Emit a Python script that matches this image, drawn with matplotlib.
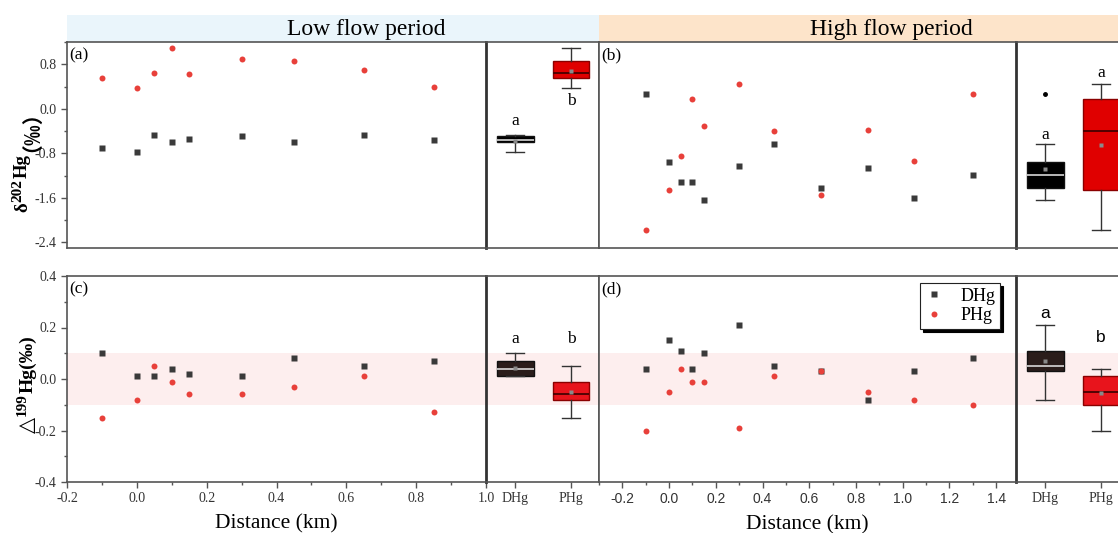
import numpy as np
import matplotlib
matplotlib.use('Agg')
import matplotlib.pyplot as plt
from matplotlib.patches import Rectangle
from matplotlib.lines import Line2D
from matplotlib.ticker import MultipleLocator

plt.rcParams['font.family'] = ['Liberation Serif', 'DejaVu Sans']
plt.rcParams['axes.unicode_minus'] = False

# ---------------- data ----------------
dist_low = [-0.1, 0.0, 0.05, 0.1, 0.15, 0.3, 0.45, 0.65, 0.85]
d202_low_DHg = [-0.70, -0.78, -0.47, -0.59, -0.54, -0.48, -0.60, -0.47, -0.56]
d202_low_PHg = [0.56, 0.38, 0.65, 1.10, 0.63, 0.89, 0.86, 0.70, 0.39]
D199_low_DHg = [0.10, 0.01, 0.01, 0.04, 0.02, 0.01, 0.08, 0.05, 0.07]
D199_low_PHg = [-0.15, -0.08, 0.05, -0.01, -0.06, -0.06, -0.03, 0.01, -0.13]

dist_high = [-0.1, 0.0, 0.05, 0.1, 0.15, 0.3, 0.45, 0.65, 0.85, 1.05, 1.3]
d202_high_DHg = [0.26, -0.96, -1.32, -1.32, -1.63, -1.03, -0.63, -1.42, -1.07, -1.60, -1.19]
d202_high_PHg = [-2.17, -1.45, -0.84, 0.17, -0.30, 0.45, -0.40, -1.55, -0.38, -0.93, 0.26]
D199_high_DHg = [0.04, 0.15, 0.11, 0.04, 0.10, 0.21, 0.05, 0.03, -0.08, 0.03, 0.08]
D199_high_PHg = [-0.20, -0.05, 0.04, -0.01, -0.01, -0.19, 0.01, 0.03, -0.05, -0.08, -0.10]

groups = ['DHg', 'PHg']
periods = ['Low flow period', 'High flow period']
panel_tags = ['(a)', '(b)', '(c)', '(d)']
letters_a = ['a', 'b']
letters_b = ['a', 'a']
letters_c = ['a', 'b']
letters_d = ['a', 'b']

# ---------------- layout ----------------
W, H = 1118, 533
fig = plt.figure(figsize=(W / 100, H / 100), dpi=100)


def rect(x0, y0, x1, y1):
    return [x0 / W, 1 - y1 / H, (x1 - x0) / W, (y1 - y0) / H]


LX0, LX1, LX2 = 67, 486, 599
RX1, RX2 = 1016, 1129
TY0, TY1 = 42, 248
BY0, BY1 = 276, 482

SP = '#555555'
DIV = '#333333'
BLK = '#3a3a3a'
RED = '#e8403a'
PINK = '#fdeeee'

# header bands
fig.add_artist(Rectangle((LX0 / W, 1 - 41.5 / H), (LX2 - LX0) / W, 26.5 / H,
                         transform=fig.transFigure, facecolor='#eaf5fb', edgecolor='none', zorder=0))
fig.add_artist(Rectangle((LX2 / W, 1 - 41.5 / H), (W - LX2) / W, 26.5 / H,
                         transform=fig.transFigure, facecolor='#fde4ca', edgecolor='none', zorder=0))
fig.text(366 / W, 1 - 29 / H, periods[0], ha='center', va='center', fontsize=17)
fig.text(891 / W, 1 - 29 / H, periods[1], ha='center', va='center', fontsize=17)

ax_a = fig.add_axes(rect(LX0, TY0, LX1, TY1))
bx_a = fig.add_axes(rect(LX1, TY0, LX2, TY1))
ax_b = fig.add_axes(rect(LX2, TY0, RX1, TY1))
bx_b = fig.add_axes(rect(RX1, TY0, RX2, TY1))
ax_c = fig.add_axes(rect(LX0, BY0, LX1, BY1))
bx_c = fig.add_axes(rect(LX1, BY0, LX2, BY1))
ax_d = fig.add_axes(rect(LX2, BY0, RX1, BY1))
bx_d = fig.add_axes(rect(RX1, BY0, RX2, BY1))

for ax in [ax_a, bx_a, ax_b, bx_b, ax_c, bx_c, ax_d, bx_d]:
    for s in ax.spines.values():
        s.set_color(SP)
        s.set_linewidth(1.2)
    ax.tick_params(which='both', direction='out', color=SP, width=1)
    ax.tick_params(which='major', length=4)
    ax.tick_params(which='minor', length=2)

for bx in [bx_a, bx_b, bx_c, bx_d]:
    bx.spines['left'].set_color(DIV)
    bx.spines['left'].set_linewidth(2)
    bx.set_xlim(0.48, 2.5)
    bx.set_yticks([])

# y limits
for ax in [ax_a, bx_a, ax_b, bx_b]:
    ax.set_ylim(-2.5, 1.2)
for ax in [ax_c, bx_c, ax_d, bx_d]:
    ax.set_ylim(-0.4, 0.4)
    ax.axhspan(-0.1, 0.1, color=PINK, zorder=0, lw=0)

ax_a.set_xlim(-0.2, 1.0)
ax_c.set_xlim(-0.2, 1.0)
ax_b.set_xlim(-0.3, 1.485)
ax_d.set_xlim(-0.3, 1.485)

# left y axes
ax_a.yaxis.set_major_locator(MultipleLocator(0.8))
ax_a.yaxis.set_minor_locator(MultipleLocator(0.4))
ax_c.yaxis.set_major_locator(MultipleLocator(0.2))
ax_c.yaxis.set_minor_locator(MultipleLocator(0.1))
for ax in [ax_a, ax_c]:
    ax.tick_params(axis='y', labelsize=10, labelcolor='#333333')
for ax in [ax_b, ax_d]:
    ax.set_yticks([])

# x axes
for ax in [ax_a, ax_b]:
    ax.set_xticks([])
for bx in [bx_a, bx_b]:
    bx.set_xticks([])
for ax in [ax_c, ax_d]:
    ax.xaxis.set_major_locator(MultipleLocator(0.2))
    ax.xaxis.set_minor_locator(MultipleLocator(0.1))
ax_c.tick_params(axis='x', labelsize=10, labelcolor='#333333')
ax_d.tick_params(axis='x', labelsize=10, labelcolor='#333333')
for lab in ax_d.get_xticklabels():
    lab.set_fontfamily('Liberation Sans')
for bx in [bx_c, bx_d]:
    bx.set_xticks([1, 2])
    bx.set_xticklabels(groups, fontsize=10, color='#333333')

for ax in [ax_a, ax_b, ax_c, ax_d]:
    ax.spines['right'].set_visible(False)

# scatter points
for ax, x, yd, yp in [(ax_a, dist_low, d202_low_DHg, d202_low_PHg),
                      (ax_b, dist_high, d202_high_DHg, d202_high_PHg),
                      (ax_c, dist_low, D199_low_DHg, D199_low_PHg),
                      (ax_d, dist_high, D199_high_DHg, D199_high_PHg)]:
    ax.plot(x, yd, 's', ms=4, color=BLK, mec='none', zorder=3)
    ax.plot(x, yp, 'o', ms=4.3, color=RED, mec='none', zorder=4)


def box_stats(vals):
    v = np.sort(np.asarray(vals, float))
    q1, med, q3 = np.percentile(v, [25, 50, 75], method='nearest')
    iqr = q3 - q1
    lo, hi = q1 - 1.5 * iqr - 1e-9, q3 + 1.5 * iqr + 1e-9
    inside = v[(v >= lo) & (v <= hi)]
    return dict(med=med, q1=q1, q3=q3, whislo=inside.min(), whishi=inside.max(),
                mean=v.mean(), fliers=v[(v < lo) | (v > hi)])


def draw_boxes(bx, dhg, phg, dcol, pcol):
    for i, (vals, fc, mc, ec) in enumerate([(dhg, dcol, '#d8d8d8', '#111111'),
                                            (phg, pcol, '#3a0000', '#8a0000')]):
        bx.bxp([box_stats(vals)], positions=[i + 1], widths=0.66, capwidths=0.33,
               patch_artist=True, showmeans=True, manage_ticks=False,
               boxprops=dict(facecolor=fc, edgecolor=ec, lw=1),
               medianprops=dict(color=mc, lw=1.2),
               whiskerprops=dict(color='#333333', lw=1),
               capprops=dict(color='#333333', lw=1),
               meanprops=dict(marker='s', ms=2.5, markerfacecolor='#8a8a8a', markeredgecolor='none'),
               flierprops=dict(marker='o', ms=2.5, markerfacecolor='k', markeredgecolor='k'))


draw_boxes(bx_a, d202_low_DHg, d202_low_PHg, '#000000', '#e00000')
draw_boxes(bx_b, d202_high_DHg, d202_high_PHg, '#000000', '#e00000')
draw_boxes(bx_c, D199_low_DHg, D199_low_PHg, '#2b1d1b', '#e8141c')
draw_boxes(bx_d, D199_high_DHg, D199_high_PHg, '#2b1d1b', '#e8141c')

# significance letters
bx_a.text(1, -0.22, letters_a[0], ha='center', va='center', fontsize=12.5)
bx_a.text(2, 0.14, letters_a[1], ha='center', va='center', fontsize=12.5)
bx_b.text(1, -0.47, letters_b[0], ha='center', va='center', fontsize=12.5)
bx_b.text(2, 0.65, letters_b[1], ha='center', va='center', fontsize=12.5)
bx_c.text(1, 0.155, letters_c[0], ha='center', va='center', fontsize=12.5)
bx_c.text(2, 0.155, letters_c[1], ha='center', va='center', fontsize=12.5)
bx_d.text(1, 0.256, letters_d[0], ha='center', va='center', fontsize=12.5, family='Liberation Sans')
bx_d.text(2, 0.16, letters_d[1], ha='center', va='center', fontsize=12.5, family='Liberation Sans')

# panel tags
for ax, t in zip([ax_a, ax_b, ax_c, ax_d], panel_tags):
    ax.text(0.006, 0.975, t, transform=ax.transAxes, ha='left', va='top', fontsize=12.5)

# x labels
for ax in [ax_c, ax_d]:
    ax.set_xlabel('Distance (km)', fontsize=15.5, labelpad=6)

# legend
handles = [Line2D([], [], ls='none', marker='s', ms=4, color=BLK, mec='none'),
           Line2D([], [], ls='none', marker='o', ms=4.3, color=RED, mec='none')]
leg = ax_d.legend(handles, groups, loc='upper right', bbox_to_anchor=(0.962, 0.966),
                  borderaxespad=0, fontsize=13, frameon=True, fancybox=False,
                  shadow={'color': 'black', 'alpha': 1}, handlelength=1.0,
                  handletextpad=1.0, borderpad=0.25, labelspacing=0.15)
leg.get_frame().set_edgecolor('#222222')
leg.get_frame().set_linewidth(0.8)
leg.get_frame().set_alpha(1)

# rotated y labels built from pieces chained bottom-to-top
renderer = fig.canvas.get_renderer()


def chain_label(pieces, x_base_px, y_bottom_px):
    y_disp = H - y_bottom_px
    for text, fam, size, rise, gap in pieces:
        y_disp += gap
        t = fig.text((x_base_px - rise) / W, y_disp / H, text, rotation=90,
                     rotation_mode='anchor', ha='left', va='baseline',
                     fontsize=size, fontweight='bold', family=fam)
        bb = t.get_window_extent(renderer=renderer)
        y_disp = bb.y1


SERIF = 'Liberation Serif'
CJK = ['Noto Sans CJK SC', 'Liberation Serif']
chain_label([('δ', SERIF, 13.5, 0, 0),
             ('202', SERIF, 11, 6, 0.5),
             ('Hg', SERIF, 13.5, 0, 0.5),
             ('（‰）', CJK, 15, 0, 3)], 27, 212)
chain_label([('△', ['DejaVu Sans'], 15, 0, 0),
             ('199', SERIF, 11, 7, 0.5),
             ('Hg(‰)', SERIF, 14, 0, 0.5)], 33, 433)

fig.savefig('out.png', dpi=100)
